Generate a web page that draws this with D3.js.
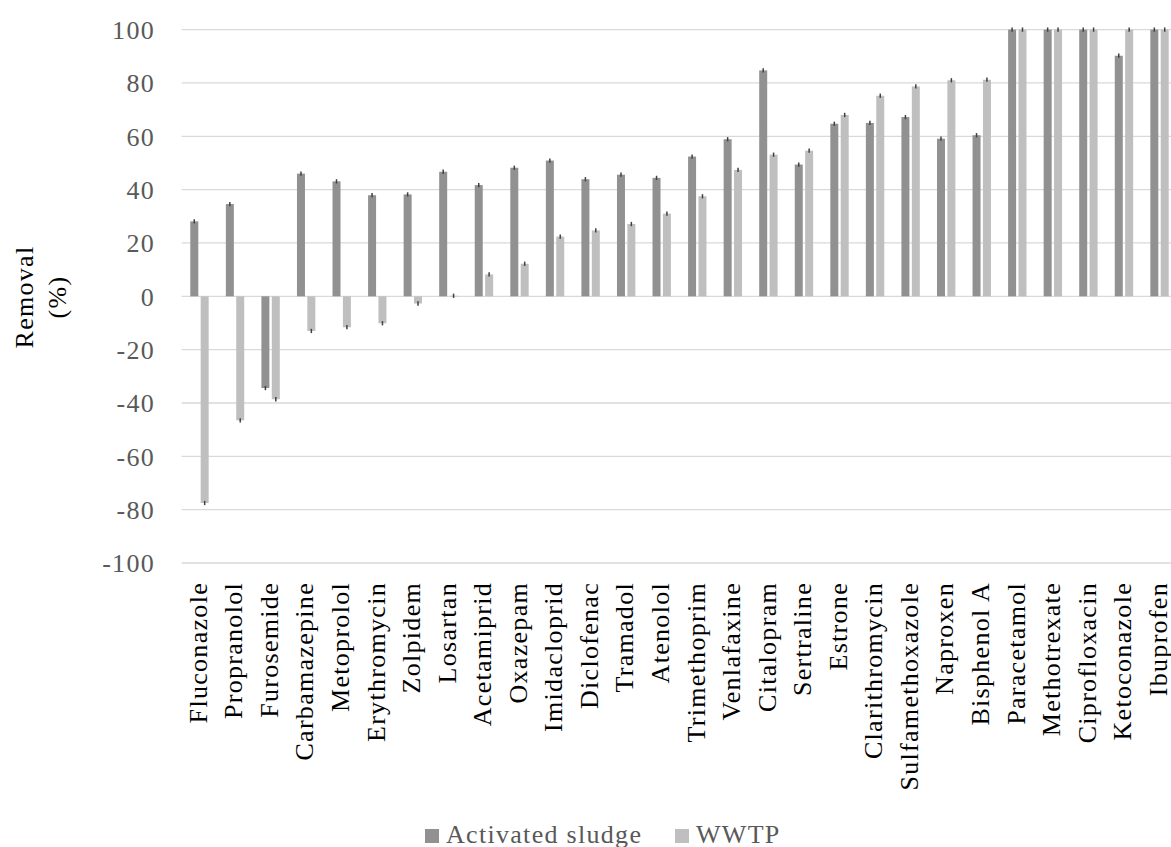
<!DOCTYPE html>
<html>
<head>
<meta charset="utf-8">
<script src="https://cdn.jsdelivr.net/npm/d3@7"></script>
<style>
  html, body { margin: 0; padding: 0; background: #fff; }
  svg { display: block; }
  text { font-family: "Liberation Serif", "Times New Roman", serif; }
</style>
</head>
<body>
<svg id="chart" width="1171" height="847"></svg>
<script>
const categories = ["Fluconazole","Propranolol","Furosemide","Carbamazepine","Metoprolol","Erythromycin","Zolpidem","Losartan","Acetamiprid","Oxazepam","Imidacloprid","Diclofenac","Tramadol","Atenolol","Trimethoprim","Venlafaxine","Citalopram","Sertraline","Estrone","Clarithromycin","Sulfamethoxazole","Naproxen","Bisphenol A","Paracetamol","Methotrexate","Ciprofloxacin","Ketoconazole","Ibuprofen"];
const activatedSludge = [28.1, 34.6, -34.4, 46.0, 43.1, 37.9, 38.2, 46.7, 41.7, 48.2, 50.9, 43.9, 45.6, 44.4, 52.4, 58.9, 84.7, 49.4, 64.7, 65.0, 67.2, 59.1, 60.4, 100, 100, 100, 90.2, 100];
const wwtp = [-77.5, -46.5, -38.6, -13.0, -11.6, -10.1, -2.7, 0.2, 8.2, 12.2, 22.4, 24.7, 27.1, 31.0, 37.5, 47.4, 53.1, 54.6, 68.0, 75.2, 78.7, 81.0, 81.2, 100, 100, 100, 100, 100];
const errAS = [0.8, 0.8, 0.8, 0.8, 0.8, 0.8, 0.8, 0.8, 0.8, 0.8, 0.8, 0.8, 0.8, 0.8, 0.8, 0.8, 0.8, 0.8, 0.8, 0.8, 0.8, 0.8, 0.8, 0.8, 0.8, 0.8, 0.8, 0.8];
const errWWTP = [0.8, 0.8, 0.8, 0.8, 0.8, 0.8, 0.8, 0.8, 0.8, 0.8, 0.8, 0.8, 0.8, 0.8, 0.8, 0.8, 0.8, 0.8, 0.8, 0.8, 0.8, 0.8, 0.8, 0.8, 0.8, 0.8, 0.8, 0.8];
const seriesNames = ["Activated sludge", "WWTP"];
const seriesColors = ["#919191", "#bfbfbf"];
const yTicks = [-100, -80, -60, -40, -20, 0, 20, 40, 60, 80, 100];
const yTitle = ["Removal", "(%)"];

const FONT = '"Liberation Serif", "Times New Roman", serif';
const FS = "26px";
const LS = "1.3px";

const svg = d3.select("#chart");
const x = d3.scaleBand().domain(categories).range([181.7, 1177.3]).paddingInner(0).paddingOuter(0);
const xs = d3.scaleBand().domain(seriesNames)
  .range([x.bandwidth() * 0.2416, x.bandwidth() * 0.7584]).paddingInner(0.23).paddingOuter(0);
const y = d3.scaleLinear().domain([-100, 100]).range([563, 29.6]);

// gridlines
svg.append("g").selectAll("line").data(yTicks).join("line")
  .attr("x1", x.range()[0]).attr("x2", x.range()[1])
  .attr("y1", d => y(d)).attr("y2", d => y(d))
  .attr("stroke", "#d9d9d9").attr("stroke-width", 1.3);

// y axis labels
const yAxis = d3.axisLeft(y).tickValues(yTicks).tickFormat(d => String(d)).tickSize(0).tickPadding(0);
const gy = svg.append("g").attr("transform", "translate(155,0)").call(yAxis);
gy.select(".domain").remove();
gy.selectAll("text")
  .attr("fill", "#595959")
  .style("font-family", FONT)
  .style("font-size", FS)
  .style("letter-spacing", LS)
  .attr("dy", "0.34em");

// bars
const data = categories.map((c, i) => ({ cat: c, vals: [
  { s: seriesNames[0], v: activatedSludge[i], e: errAS[i], c: seriesColors[0] },
  { s: seriesNames[1], v: wwtp[i], e: errWWTP[i], c: seriesColors[1] }
]}));
const groups = svg.append("g").selectAll("g").data(data).join("g")
  .attr("transform", d => `translate(${x(d.cat)},0)`);
groups.selectAll("rect").data(d => d.vals).join("rect")
  .attr("x", d => xs(d.s)).attr("width", xs.bandwidth())
  .attr("y", d => y(Math.max(0, d.v)))
  .attr("height", d => Math.abs(y(d.v) - y(0)))
  .attr("fill", d => d.c);
groups.selectAll("line.err").data(d => d.vals).join("line")
  .attr("class", "err")
  .attr("x1", d => xs(d.s) + xs.bandwidth() / 2).attr("x2", d => xs(d.s) + xs.bandwidth() / 2)
  .attr("y1", d => y(d.v - d.e)).attr("y2", d => y(d.v + d.e))
  .attr("stroke", "#404040").attr("stroke-width", 1.5);

// x labels
const xAxis = d3.axisBottom(x).tickSize(0).tickPadding(0);
const gx = svg.append("g").attr("transform", "translate(0,582)").call(xAxis);
gx.select(".domain").remove();
gx.selectAll("text")
  .attr("fill", "#000")
  .style("font-family", FONT)
  .style("font-size", FS)
  .style("letter-spacing", LS)
  .attr("text-anchor", "end")
  .attr("transform", "rotate(-90)")
  .attr("x", 0).attr("y", 0).attr("dy", "0.28em");

// y title
const yt = svg.append("text")
  .attr("transform", "translate(0,297) rotate(-90)")
  .attr("text-anchor", "middle")
  .attr("fill", "#000")
  .style("font-size", FS)
  .style("letter-spacing", LS);
yt.selectAll("tspan").data(yTitle).join("tspan")
  .attr("x", 0).attr("y", (d, i) => i === 0 ? 33 : 66)
  .text(d => d);

// legend
const legX = [425, 675];
const leg = svg.append("g").selectAll("g").data(seriesNames).join("g")
  .attr("transform", (d, i) => `translate(${legX[i]},0)`);
leg.append("rect").attr("x", 0).attr("y", 829).attr("width", 14).attr("height", 14)
  .attr("fill", (d, i) => seriesColors[i]);
leg.append("text").attr("x", 21).attr("y", 843)
  .attr("fill", "#595959").style("font-size", FS).style("letter-spacing", LS).text(d => d);
</script>
</body>
</html>
